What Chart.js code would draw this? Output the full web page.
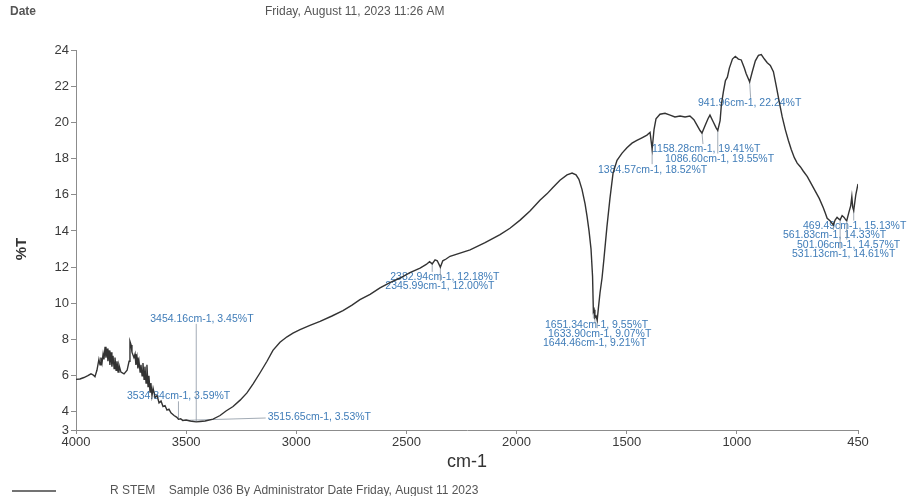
<!DOCTYPE html>
<html>
<head>
<meta charset="utf-8">
<title>FTIR spectrum</title>
<script src="https://cdn.jsdelivr.net/npm/chart.js@4/dist/chart.umd.min.js"></script>
<style>
  html, body { margin: 0; padding: 0; background: #ffffff; }
  canvas { display: block; }
</style>
</head>
<body>
<canvas id="ir" width="910" height="496"></canvas>
<script>
// Spectrum: wavenumber (cm-1) and transmittance (%T)
const wavenumbers = [
  4000, 3982, 3964, 3946, 3932, 3923, 3914, 3905, 3896, 3891, 3887, 3882, 3877, 3873, 3868, 3864,
  3859, 3855, 3850, 3846, 3841, 3837, 3832, 3827, 3823, 3818, 3814, 3809, 3805, 3796, 3782, 3768,
  3759, 3755, 3750, 3746, 3737, 3732, 3728, 3723, 3719, 3714, 3709, 3705, 3700, 3696, 3691, 3687,
  3682, 3678, 3673, 3669, 3664, 3660, 3655, 3650, 3641, 3632, 3623, 3614, 3605, 3596, 3587, 3578,
  3569, 3555, 3542, 3534.84, 3525, 3515.65, 3500, 3482, 3474, 3454.16, 3437, 3414, 3378, 3346,
  3319, 3287, 3255, 3224, 3196, 3165, 3133, 3106, 3074, 3042, 3015, 2983, 2938, 2892, 2838, 2788,
  2747, 2711, 2665, 2620, 2575, 2529, 2484, 2438, 2410, 2395, 2382.94, 2370, 2360, 2345.99, 2335,
  2320, 2302, 2211, 2143, 2075, 2030, 1984, 1939, 1894, 1862, 1835, 1803, 1771, 1748, 1730, 1717,
  1703, 1689, 1680, 1671, 1662, 1655, 1651.34, 1648, 1644.46, 1639, 1633.90, 1628, 1621, 1612,
  1603, 1590, 1576, 1562, 1544, 1521, 1499, 1476, 1454, 1431, 1408, 1394, 1384.57, 1376, 1367,
  1349, 1326, 1303, 1281, 1258, 1235, 1213, 1195, 1181, 1167, 1158.28, 1145, 1131, 1122, 1108,
  1094, 1086.60, 1076, 1070, 1061, 1052, 1043, 1034, 1020, 1007, 993, 980, 966, 958, 941.96, 930,
  916, 902, 889, 875, 862, 848, 834, 821, 807, 794, 780, 766, 753, 739, 726, 712, 698, 680, 662,
  644, 626, 608, 599, 590, 576, 561.83, 554, 545, 536, 531.13, 522, 513, 505, 501.06, 492, 483,
  478, 474, 469.49, 460, 450
];
const transmittance = [
  5.80, 5.82, 5.90, 6.00, 6.10, 6.05, 5.95, 6.30, 6.90, 6.60, 7.00, 6.70, 7.20, 6.90, 7.60, 7.00,
  7.50, 6.80, 7.40, 6.60, 7.30, 6.50, 7.10, 6.40, 7.00, 6.30, 6.80, 6.20, 6.60, 6.20, 6.10, 6.30,
  6.80, 7.90, 7.70, 7.30, 7.00, 7.20, 6.60, 7.00, 6.40, 6.80, 6.20, 6.60, 6.00, 6.70, 5.80, 6.50,
  5.60, 6.60, 5.40, 6.00, 5.10, 5.60, 4.90, 5.30, 4.80, 4.90, 4.50, 4.60, 4.30, 4.35, 4.10, 4.15,
  3.95, 3.80, 3.70, 3.59, 3.62, 3.53, 3.55, 3.50, 3.48, 3.45, 3.47, 3.50, 3.60, 3.80,
  4.05, 4.30, 4.65, 5.05, 5.55, 6.15, 6.80, 7.40, 7.85, 8.15, 8.35, 8.55, 8.78, 9.00, 9.30, 9.60,
  9.90, 10.20, 10.50, 10.85, 11.15, 11.40, 11.70, 11.95, 12.15, 12.30, 12.18, 12.40, 12.35, 12.00, 12.35,
  12.45, 12.60, 12.95, 13.35, 13.80, 14.15, 14.60, 15.10, 15.70, 16.05, 16.40, 16.80, 17.10, 17.20, 17.10, 16.85,
  16.30, 15.50, 14.80, 14.00, 13.00, 11.50, 9.55, 9.65, 9.21, 9.30, 9.07, 9.80, 10.60, 11.40,
  12.50, 14.20, 15.80, 17.20, 17.90, 18.30, 18.60, 18.85, 19.00, 19.15, 19.30, 19.45, 18.52, 19.60, 20.20,
  20.45, 20.50, 20.40, 20.30, 20.35, 20.30, 20.35, 20.15, 19.85, 19.55, 19.41, 19.80, 20.20, 20.40, 20.05,
  19.70, 19.55, 20.10, 21.00, 21.70, 22.30, 22.50, 23.00, 23.50, 23.65, 23.50, 23.45, 23.00, 22.70, 22.24, 22.80,
  23.40, 23.70, 23.75, 23.50, 23.30, 23.15, 22.80, 22.00, 21.10, 20.30, 19.60, 19.00, 18.50, 18.05, 17.75, 17.55, 17.30, 17.00, 16.60,
  16.20, 15.80, 15.30, 15.00, 14.70, 14.55, 14.33, 14.60, 14.75, 14.65, 14.61, 14.85, 14.75, 14.60, 14.57, 15.00, 15.40,
  15.90, 15.30, 15.13, 16.00, 16.60
];

// Labelled peaks
const peakWavenumbers   = [3534.84, 3454.16, 3515.65, 2382.94, 2345.99, 1651.34, 1633.90, 1644.46,
                           1384.57, 1158.28, 1086.60, 941.96, 469.49, 561.83, 501.06, 531.13];
const peakTransmittance = [3.59, 3.45, 3.53, 12.18, 12.00, 9.55, 9.07, 9.21,
                           18.52, 19.41, 19.55, 22.24, 15.13, 14.33, 14.57, 14.61];

// Axis ticks
const xTickValues = [4000, 3500, 3000, 2500, 2000, 1500, 1000, 450];
const yTickValues = [3, 4, 6, 8, 10, 12, 14, 16, 18, 20, 22, 24];

// Header / footer text
const headerLeft  = 'Date';
const headerDate  = 'Friday, August 11, 2023 11:26 AM';
const footerText  = 'R STEM    Sample 036 By Administrator Date Friday, August 11 2023';

const FONT = '"Liberation Sans", Arial, Helvetica, sans-serif';

// Label placement relative to each peak: [text dx, text dy, leader dx, leader dy] in px
const peakLabelLayout = [
  [-51.5, -23, 0, -18],
  [-46, -103, 0, -98],
  [85, -3, 83, -2.4],
  [-42, 13, 0, 8],
  [-55, 19, 0, 14],
  [-48.4, 13.5, 0, 7],
  [-49.2, 13.8, 0, 8],
  [-51.9, 25.4, 0, 6],
  [-54.1, 20.8, 0, 15],
  [-50, 16, 1, 11],
  [-52.8, 28.5, 0, 23],
  [-51.6, 21.2, 1, 16],
  [-50.7, 15.5, 0, 10],
  [-50.4, 10, 0, 5],
  [-49.8, 24.4, 0, 19],
  [-48.1, 34.1, 0, 29]
];

const peakLabels = {
  id: 'peakLabels',
  beforeDatasetsDraw(chart) {
    const { ctx, scales: { x, y } } = chart;
    ctx.save();
    ctx.font = '10.5px ' + FONT;
    ctx.textBaseline = 'middle';
    ctx.textAlign = 'left';
    peakWavenumbers.forEach((w, i) => {
      const t = peakTransmittance[i];
      const px = x.getPixelForValue(w);
      const py = y.getPixelForValue(t);
      const [dx, dy, lx, ly] = peakLabelLayout[i];
      ctx.strokeStyle = '#8a96a2';
      ctx.lineWidth = 0.8;
      ctx.beginPath();
      ctx.moveTo(px, py);
      ctx.lineTo(px + lx, py + ly);
      ctx.stroke();
      ctx.fillStyle = '#3f7cb8';
      ctx.fillText(w.toFixed(2) + 'cm-1, ' + t.toFixed(2) + '%T', px + dx, py + dy);
    });
    ctx.restore();
  }
};

const pageText = {
  id: 'pageText',
  afterDraw(chart) {
    const { ctx, chartArea } = chart;
    ctx.save();
    ctx.textBaseline = 'middle';
    ctx.fillStyle = '#555555';
    ctx.font = 'bold 12px ' + FONT;
    ctx.textAlign = 'left';
    ctx.fillText(headerLeft, 10, 12);
    ctx.font = '12px ' + FONT;
    ctx.fillText(headerDate, 265, 12);

    // axis titles
    ctx.fillStyle = '#333333';
    ctx.font = '18px ' + FONT;
    ctx.textAlign = 'center';
    ctx.fillText('cm-1', (chartArea.left + chartArea.right) / 2, 462);
    ctx.save();
    ctx.translate(22, 249);
    ctx.rotate(-Math.PI / 2);
    ctx.font = 'bold 15px ' + FONT;
    ctx.fillText('%T', 0, 0);
    ctx.restore();

    // footer legend line and caption
    ctx.strokeStyle = '#444444';
    ctx.lineWidth = 1.5;
    ctx.beginPath();
    ctx.moveTo(12, 491);
    ctx.lineTo(56, 491);
    ctx.stroke();
    ctx.fillStyle = '#555555';
    ctx.font = '12px ' + FONT;
    ctx.textAlign = 'left';
    ctx.fillText(footerText, 110, 491);
    ctx.restore();
  }
};

const axisColor = '#8c8c8c';

new Chart(document.getElementById('ir'), {
  type: 'scatter',
  data: {
    datasets: [{
      data: wavenumbers.map((w, i) => ({ x: w, y: transmittance[i] })),
      showLine: true,
      borderColor: '#333333',
      borderWidth: 1.4,
      pointRadius: 0,
      tension: 0
    }]
  },
  options: {
    responsive: false,
    animation: false,
    devicePixelRatio: 1,
    layout: { padding: { top: 50, right: 52, left: 0, bottom: 0 } },
    plugins: { legend: { display: false }, tooltip: { enabled: false } },
    scales: {
      x: {
        type: 'linear',
        reverse: true,
        min: 450,
        max: 4000,
        afterBuildTicks: s => { s.ticks = xTickValues.map(v => ({ value: v })); },
        afterFit: s => { s.height = 66; },
        grid: { drawOnChartArea: false, drawTicks: true, tickLength: 4, color: axisColor },
        border: { color: axisColor, width: 1 },
        ticks: {
          font: { family: FONT, size: 13 },
          color: '#3a3a3a',
          padding: 1,
          maxRotation: 0,
          autoSkip: false,
          callback: v => String(v)
        }
      },
      y: {
        min: 3,
        max: 24,
        afterBuildTicks: s => { s.ticks = yTickValues.map(v => ({ value: v })); },
        afterFit: s => { s.width = 76; },
        grid: { drawOnChartArea: false, drawTicks: true, tickLength: 5, color: axisColor },
        border: { color: axisColor, width: 1 },
        ticks: {
          font: { family: FONT, size: 13 },
          color: '#3a3a3a',
          padding: 2,
          autoSkip: false,
          callback: v => String(v)
        }
      }
    }
  },
  plugins: [peakLabels, pageText]
});
</script>
</body>
</html>
